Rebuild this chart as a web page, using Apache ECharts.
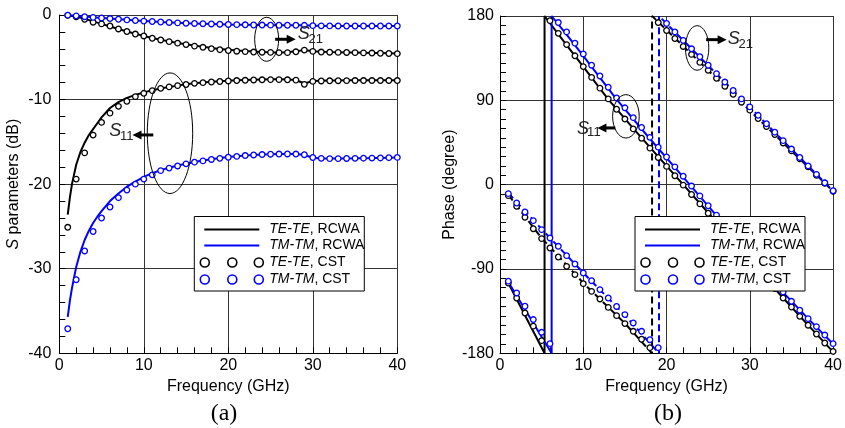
<!DOCTYPE html>
<html>
<head>
<meta charset="utf-8">
<script src="https://cdn.jsdelivr.net/npm/echarts@6/dist/echarts.min.js"></script>
<style>
  html, body { margin: 0; padding: 0; background: #fff; }
  #c { width: 845px; height: 428px; }
</style>
</head>
<body>
<div id="c"></div>
<script>
// ---------- shared frequency grid of the CST samples (GHz) ----------
const cstFreq = [1,2,3,4,5,6,7,8,9,10,11,12,13,14,15,16,17,18,19,20,
                 21,22,23,24,25,26,27,28,29,30,31,32,33,34,35,36,37,38,39,40];

// ---------- (a) magnitude, dB ----------
const magLineFreq = [1,1.25,1.5,2,2.5,3,3.5,4,4.5,5,6,7,8,9,10,11,12,13,14,15,16,17,18,19,20,
                     21,22,23,24,25,26,27,28,29,30,31,32,33,34,35,36,37,38,39,40];
const s11TeRcwa = [-23.6,-21.6,-20.0,-17.7,-16.2,-15.1,-14.2,-13.5,-12.8,-12.1,-11.0,-10.3,-9.8,-9.45,-9.15,
                   -8.9,-8.68,-8.5,-8.35,-8.2,-8.08,-7.98,-7.9,-7.83,-7.77,-7.72,-7.68,-7.65,-7.62,-7.6,
                   -7.6,-7.62,-7.68,-8.1,-7.8,-7.76,-7.74,-7.73,-7.72,-7.72,-7.72,-7.72,-7.72,-7.72,-7.72];
const s11TmRcwa = [-35.7,-33.8,-32.3,-29.8,-28.0,-26.6,-25.5,-24.6,-23.85,-23.2,-22.0,-21.1,-20.3,-19.7,-19.15,
                   -18.7,-18.35,-18.05,-17.8,-17.58,-17.38,-17.2,-17.05,-16.92,-16.8,-16.7,-16.62,-16.55,-16.5,-16.46,
                   -16.44,-16.43,-16.44,-16.55,-16.88,-16.96,-16.98,-16.98,-16.96,-16.95,-16.93,-16.92,-16.9,-16.87,-16.84];
const s21TeRcwa = [-0.05,-0.18,-0.45,-0.75,-1.05,-1.35,-1.65,-1.95,-2.22,-2.48,-2.72,-2.93,-3.12,-3.3,-3.47,-3.62,-3.76,-3.9,-4.02,-4.12,
                   -4.2,-4.27,-4.33,-4.37,-4.4,-4.42,-4.4,-4.3,-4.15,-4.28,-4.35,-4.38,-4.4,-4.42,-4.44,-4.46,-4.48,-4.5,-4.52,-4.55];
const s21TmRcwa = [-0.02,-0.1,-0.19,-0.27,-0.35,-0.42,-0.49,-0.57,-0.64,-0.71,-0.77,-0.83,-0.88,-0.93,-0.97,-1.0,-1.03,-1.06,-1.09,-1.12,
                   -1.14,-1.16,-1.18,-1.19,-1.2,-1.21,-1.21,-1.21,-1.22,-1.26,-1.28,-1.29,-1.3,-1.3,-1.3,-1.3,-1.3,-1.3,-1.3,-1.3];
const s11TeCst = [-25.1,-19.4,-16.3,-14.2,-12.7,-11.6,-10.8,-10.2,-9.65,-9.26,-8.94,-8.67,-8.5,-8.35,-8.22,-8.08,-8.0,-7.92,-7.86,-7.8,
                  -7.75,-7.72,-7.68,-7.66,-7.64,-7.64,-7.66,-7.7,-8.2,-7.85,-7.8,-7.78,-7.77,-7.76,-7.75,-7.75,-7.75,-7.75,-7.75,-7.75];
const s11TmCst = [-37.1,-31.3,-27.9,-25.6,-24.0,-22.7,-21.6,-20.7,-20.0,-19.4,-18.9,-18.4,-18.1,-17.85,-17.6,-17.4,-17.25,-17.08,-16.95,-16.82,
                  -16.72,-16.62,-16.55,-16.5,-16.46,-16.44,-16.43,-16.44,-16.52,-16.85,-16.95,-16.98,-16.98,-16.96,-16.95,-16.93,-16.92,-16.9,-16.87,-16.84];
const s21TeCst = [-0.05,-0.2,-0.5,-0.85,-1.05,-1.3,-1.65,-1.95,-2.25,-2.48,-2.75,-2.95,-3.15,-3.33,-3.5,-3.68,-3.82,-3.98,-4.1,-4.2,
                  -4.28,-4.33,-4.38,-4.4,-4.42,-4.45,-4.45,-4.35,-4.15,-4.3,-4.38,-4.4,-4.42,-4.43,-4.45,-4.48,-4.5,-4.52,-4.55,-4.57];
const s21TmCst = [-0.02,-0.1,-0.2,-0.28,-0.35,-0.42,-0.5,-0.58,-0.65,-0.72,-0.77,-0.83,-0.88,-0.93,-0.97,-1.0,-1.03,-1.06,-1.09,-1.12,
                  -1.14,-1.16,-1.18,-1.19,-1.2,-1.21,-1.21,-1.21,-1.22,-1.26,-1.28,-1.29,-1.3,-1.3,-1.3,-1.3,-1.3,-1.3,-1.3,-1.3];

// ---------- (b) phase, degree (wrapped to [-180, 180]) ----------
const ph11TeFreq = [1,5.35,5.35,8,10,13,16,19,22,25,28,31,34,37,40];
const ph11TeRcwa = [-105,-180,180,149,126,91,60,30,0,-30,-60,-91,-121,-150,-178.5];
const ph11TmFreq = [1,6.2,6.2,8,10,14,18,22,26,30,34,37,40];
const ph11TmRcwa = [-104,-180,180,160,137.5,91,49,8,-33,-74,-115,-143,-170];
const ph21TeFreq = [1,5,10,15,18.26,18.26,25,30,35,40];
const ph21TeRcwa = [-11,-57,-105,-148,-180,180,122,79,36,-7];
const ph21TmFreq = [1,5,10,15,19.09,19.09,25,30,35,40];
const ph21TmRcwa = [-9,-47.5,-94,-139.5,-180,180,127.2,82.6,37.9,-6.7];
const ph11TeCst = [-105,-121,-137,-151,-166.5,175,161.5,149.5,137.5,126,114.5,103,91.5,80.5,70,59.5,49.5,39,29,19.5,
                   9.5,-0.5,-10.5,-20.5,-30.5,-40,-50,-60,-70,-80.5,-90.5,-101,-111,-121,-130.6,-140.5,-150,-159.4,-169,-178];
const ph11TmCst = [-103,-115.6,-129.8,-144,-157.6,-169.7,173,163,151,139.5,127.5,116,104,92.5,82,71.5,61,50.5,40,29.5,
                   19,9,-1.5,-12,-22.5,-32.5,-42.5,-52.5,-62.5,-72.5,-83,-93.5,-104,-114.5,-124.5,-134,-143,-151.5,-160.5,-169.7];
const ph21TeCst = [-11.7,-23.1,-34.9,-47,-57.6,-67.6,-77.2,-87.2,-96,-105.7,-113.9,-122,-131,-139.8,-148.3,-156.5,-165,-174,173,164.5,
                   156,147.5,139,130.5,122,113.5,105,96.5,88,79.5,70.5,62,53.5,44.5,36,27.5,19,10,1.5,-7];
const ph21TmCst = [-9.6,-19.6,-29.2,-38.4,-48,-56.9,-65.8,-75.8,-84.7,-94.3,-102.5,-112,-121,-130,-138.7,-147.6,-156.5,-165.5,-174,172,
                   163,154,145,136.5,127.5,118.5,109.5,100.5,91.5,83,74,65,56,47,38,29,20,11,2,-6.5];

// ---------- axis tick settings (major interval, minor divisions per interval) ----------
const freqTicks = { min: 0, max: 40, interval: 10, minorSplit: 5 };
const magTicks = { min: -40, max: 0, interval: 10, minorSplit: 5 };
const phaseTicks = { min: -180, max: 180, interval: 90, minorSplit: 9 };

const FONT = '"Liberation Sans", Arial, sans-serif';
const SERIF = '"Liberation Serif", "Times New Roman", serif';
const BLACK = '#000000';
const BLUE = '#0000ff';

const zip = (xs, ys) => xs.map((x, i) => [x, ys[i]]);

function mainAxis(gridIndex, position, t, extra) {
  return Object.assign({
    type: 'value', gridIndex, position, offset: 0,
    min: t.min, max: t.max, interval: t.interval,
    axisLine: { show: true, onZero: false, lineStyle: { color: BLACK, width: 1 } },
    axisTick: { show: true, inside: true, length: 6, lineStyle: { color: BLACK, width: 1 } },
    minorTick: { show: true, splitNumber: t.minorSplit, length: 6, lineStyle: { color: BLACK, width: 1 } },
    minorSplitLine: { show: false },
    splitLine: { show: true, lineStyle: { color: '#333333', width: 1 } },
    axisLabel: { color: BLACK, fontSize: 16, fontFamily: FONT, showMinLabel: true, showMaxLabel: true, hideOverlap: false },
    nameTextStyle: { color: BLACK, fontSize: 16, fontFamily: FONT }
  }, extra);
}

function freqAxis(gridIndex) {
  return mainAxis(gridIndex, 'bottom', freqTicks, {
    name: 'Frequency (GHz)', nameLocation: 'middle', nameGap: 21,
    axisLabel: { color: BLACK, fontSize: 16, fontFamily: FONT, margin: 4, showMinLabel: true, showMaxLabel: true, hideOverlap: false }
  });
}

function lineSeries(gi, data, color, dashed) {
  return {
    type: 'line', xAxisIndex: gi, yAxisIndex: gi, data,
    showSymbol: false, symbol: 'none', smooth: false, z: 2,
    lineStyle: { color, width: 2, type: dashed ? [7, 4] : 'solid' },
    emphasis: { disabled: true }, silent: true
  };
}

function cstSeries(gi, data, color) {
  return {
    type: 'scatter', xAxisIndex: gi, yAxisIndex: gi, data,
    symbol: 'circle', symbolSize: 5.6, z: 3,
    itemStyle: { color: '#ffffff', borderColor: color, borderWidth: 1.3, opacity: 1 },
    emphasis: { disabled: true }, silent: true
  };
}

const chart = echarts.init(document.getElementById('c'), null, { renderer: 'canvas' });

chart.setOption({
  animation: false,
  backgroundColor: '#ffffff',
  textStyle: { fontFamily: FONT },
  grid: [
    { left: 59.3, top: 15, width: 338, height: 338.3, containLabel: false },
    { left: 500, top: 16, width: 336.7, height: 337.3, containLabel: false }
  ],
  xAxis: [freqAxis(0), freqAxis(1)],
  yAxis: [
    mainAxis(0, 'left', magTicks, {
      name: '{i|S} parameters (dB)', nameLocation: 'middle', nameGap: 38,
      axisLabel: { color: BLACK, fontSize: 16, fontFamily: FONT, margin: 8, showMinLabel: true, showMaxLabel: true, hideOverlap: false },
      nameTextStyle: { color: BLACK, fontSize: 16, fontFamily: FONT,
        rich: { i: { fontStyle: 'italic', fontSize: 16, fontFamily: FONT, color: BLACK } } }
    }),
    mainAxis(1, 'left', phaseTicks, {
      name: 'Phase (degree)', nameLocation: 'middle', nameGap: 42,
      axisLabel: { color: BLACK, fontSize: 16, fontFamily: FONT, margin: 6, showMinLabel: true, showMaxLabel: true, hideOverlap: false }
    })
  ],
  series: [
    // (a) magnitude
    lineSeries(0, zip(magLineFreq, s11TeRcwa), BLACK, false),
    lineSeries(0, zip(magLineFreq, s11TmRcwa), BLUE, false),
    lineSeries(0, zip(cstFreq, s21TeRcwa), BLACK, false),
    lineSeries(0, zip(cstFreq, s21TmRcwa), BLUE, false),
    cstSeries(0, zip(cstFreq, s11TeCst), BLACK),
    cstSeries(0, zip(cstFreq, s11TmCst), BLUE),
    cstSeries(0, zip(cstFreq, s21TeCst), BLACK),
    cstSeries(0, zip(cstFreq, s21TmCst), BLUE),
    // (b) phase: S11 solid, S21 dashed
    lineSeries(1, zip(ph11TeFreq, ph11TeRcwa), BLACK, false),
    lineSeries(1, zip(ph11TmFreq, ph11TmRcwa), BLUE, false),
    lineSeries(1, zip(ph21TeFreq, ph21TeRcwa), BLACK, true),
    lineSeries(1, zip(ph21TmFreq, ph21TmRcwa), BLUE, true),
    cstSeries(1, zip(cstFreq, ph11TeCst), BLACK),
    cstSeries(1, zip(cstFreq, ph11TmCst), BLUE),
    cstSeries(1, zip(cstFreq, ph21TeCst), BLACK),
    cstSeries(1, zip(cstFreq, ph21TmCst), BLUE)
  ]
});

// ---------- overlays: legends, callouts, panel captions ----------
const Z = 50;
const gfx = [];

function text(str, x, y, font, fill, align, rich) {
  const style = { text: str, x, y, font, fill: fill || BLACK, align: align || 'left', verticalAlign: 'middle' };
  if (rich) style.rich = rich;
  gfx.push({ type: 'text', z: Z + 2, silent: true, style });
}

const legendRich = { i: { fontStyle: 'italic', fontSize: 14, fontFamily: FONT, fill: BLACK } };

function legendBox(gi) {
  const g = chart.getModel().getComponent('grid', gi).coordinateSystem.getRect();
  const x0 = g.x + 135, y0 = 216.5;
  gfx.push({ type: 'rect', z: Z, silent: true,
    shape: { x: x0, y: y0, width: 170, height: 74.5 },
    style: { fill: '#ffffff', stroke: BLACK, lineWidth: 1 } });
  const rows = [
    { y: y0 + 13, color: BLACK, label: '{i|TE-TE}, RCWA', line: true },
    { y: y0 + 29, color: BLUE, label: '{i|TM-TM}, RCWA', line: true },
    { y: y0 + 46, color: BLACK, label: '{i|TE-TE}, CST', line: false },
    { y: y0 + 63, color: BLUE, label: '{i|TM-TM}, CST', line: false }
  ];
  rows.forEach(r => {
    if (r.line) {
      gfx.push({ type: 'line', z: Z + 1, silent: true,
        shape: { x1: x0 + 10, y1: r.y, x2: x0 + 65, y2: r.y },
        style: { stroke: r.color, lineWidth: 2 } });
    } else {
      [10.5, 38, 64.5].forEach(dx => gfx.push({ type: 'circle', z: Z + 1, silent: true,
        shape: { cx: x0 + dx, cy: r.y, r: 4.5 },
        style: { fill: '#ffffff', stroke: r.color, lineWidth: 1.6 } }));
    }
    text(r.label, x0 + 75, r.y, '14px ' + FONT, BLACK, 'left', legendRich);
  });
}
legendBox(0);
legendBox(1);

function arrow(x1, x2, y) {
  const dir = x2 > x1 ? 1 : -1;
  gfx.push({ type: 'line', z: Z + 1, silent: true,
    shape: { x1, y1: y, x2: x2 - dir * 7, y2: y },
    style: { stroke: BLACK, lineWidth: 3 } });
  gfx.push({ type: 'polygon', z: Z + 1, silent: true,
    shape: { points: [[x2, y], [x2 - dir * 9, y - 4.5], [x2 - dir * 9, y + 4.5]] },
    style: { fill: BLACK } });
}

// callout: ellipse around a group of curves, an arrow toward its axis and an S-parameter label
function callout(gi, at, c) {
  const p = chart.convertToPixel({ gridIndex: gi }, at);
  gfx.push({ type: 'ellipse', z: Z, silent: true,
    shape: { cx: p[0], cy: p[1], rx: c.rx, ry: c.ry },
    style: { fill: null, stroke: BLACK, lineWidth: 1 } });
  arrow(p[0] + c.a1, p[0] + c.a2, p[1] + c.ay);
  text('S', p[0] + c.sx, p[1] + c.sy, 'italic 18px ' + FONT, '#222');
  text(c.sub, p[0] + c.bx, p[1] + c.by, '13px ' + FONT, '#222');
}

callout(0, [24.54, -2.87], { rx: 12, ry: 22, a1: 8.5, a2: 29, ay: 0, sx: 31, sy: -4.8, bx: 41.8, by: 0.5, sub: '21' });
callout(0, [13.1, -13.98], { rx: 22.7, ry: 60.3, a1: -16.7, a2: -37.5, ay: 1.7, sx: -60.7, sy: -1.8, bx: -50, by: 3, sub: '11' });
callout(1, [23.67, 145.9], { rx: 11.7, ry: 22.3, a1: 9, a2: 29.5, ay: -8.3, sx: 30.7, sy: -8.5, bx: 41.4, by: -4, sub: '21' });
callout(1, [15.12, 72.9], { rx: 13.3, ry: 21.7, a1: -10.6, a2: -28.5, ay: 11.6, sx: -49, sy: 12.4, bx: -38.8, by: 15.8, sub: '11' });

text('(a)', 224, 414, '24px ' + SERIF, BLACK, 'center');
text('(b)', 668, 414, '24px ' + SERIF, BLACK, 'center');

chart.setOption({ graphic: { elements: gfx } });
</script>
</body>
</html>
